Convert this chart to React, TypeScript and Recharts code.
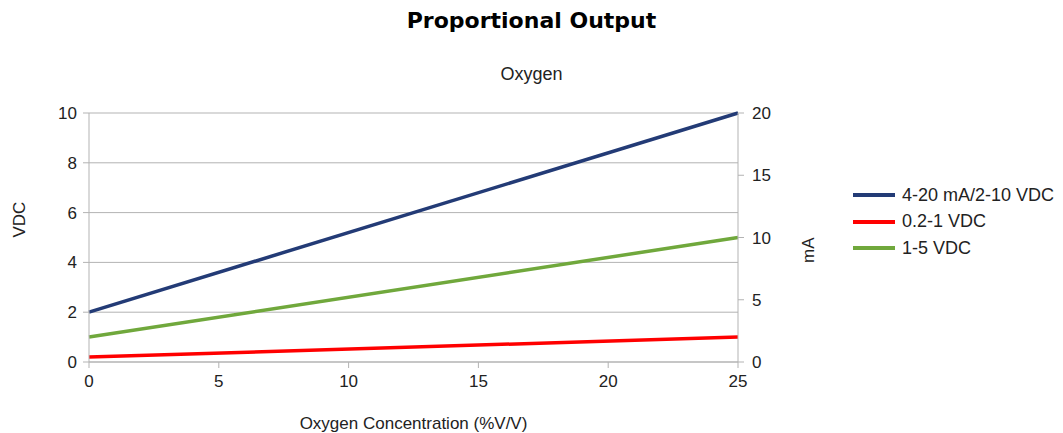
import { LineChart, Line, XAxis, YAxis, CartesianGrid } from 'recharts';

const concentration = [0, 25];
const span420 = [2, 10];
const span021 = [0.2, 1];
const span15 = [1, 5];
const milliAmps = [4, 20];

const xTicks = [0, 5, 10, 15, 20, 25];
const vdcTicks = [0, 2, 4, 6, 8, 10];
const maTicks = [0, 5, 10, 15, 20];

const series = [
  { key: 'a', name: '4-20 mA/2-10 VDC', color: '#233b76' },
  { key: 'b', name: '0.2-1 VDC', color: '#ff0000' },
  { key: 'c', name: '1-5 VDC', color: '#70a83c' },
];

const data = concentration.map((x, i) => ({
  x,
  a: span420[i],
  b: span021[i],
  c: span15[i],
  ma: milliAmps[i],
}));

const font = '"Liberation Sans", Arial, sans-serif';
const tickStyle = { fontSize: 17, fill: '#222', fontFamily: font };

export default function App() {
  return (
    <div style={{ position: 'relative', width: 1047, height: 425, fontFamily: font }}>
      <div style={{ position: 'absolute', left: 0, width: 1047, top: 0, textAlign: 'center', fontFamily: '"DejaVu Sans", sans-serif', fontWeight: 'bold', fontSize: 22, color: '#000' }}>
        Proportional Output
      </div>
      <div style={{ position: 'absolute', left: 0, width: 1047, top: 56, textAlign: 'center', fontSize: 18, color: '#222' }}>
        Oxygen
      </div>
      <LineChart width={1047} height={425} data={data} margin={{ top: 105, right: 267, bottom: 41, left: 31 }}>
        <CartesianGrid yAxisId="left" vertical={false} stroke="#b3b3b3" />
        <XAxis
          dataKey="x"
          type="number"
          domain={[0, 25]}
          ticks={xTicks}
          height={30}
          stroke="#b3b3b3"
          tickSize={6}
          tick={{ ...tickStyle, dy: 5 }}
          label={{ value: 'Oxygen Concentration (%V/V)', position: 'insideBottom', offset: -37, style: { fontSize: 17, fill: '#222', fontFamily: font } }}
        />
        <YAxis
          yAxisId="left"
          domain={[0, 10]}
          ticks={vdcTicks}
          width={50}
          stroke="#b3b3b3"
          tickSize={6}
          tick={{ ...tickStyle, dx: -4 }}
          label={{ value: 'VDC', angle: -90, position: 'insideLeft', offset: -20, style: { fontSize: 17, fill: '#222', fontFamily: font } }}
        />
        <YAxis
          yAxisId="right"
          orientation="right"
          domain={[0, 20]}
          ticks={maTicks}
          width={50}
          stroke="#b3b3b3"
          tickSize={6}
          tick={{ ...tickStyle, dx: 6 }}
          label={{ value: 'mA', angle: -90, position: 'insideRight', offset: -20, style: { fontSize: 17, fill: '#222', fontFamily: font } }}
        />
        <Line yAxisId="right" dataKey="ma" stroke="none" dot={false} isAnimationActive={false} />
        {series.map((s) => (
          <Line
            key={s.key}
            yAxisId="left"
            dataKey={s.key}
            name={s.name}
            stroke={s.color}
            strokeWidth={3.5}
            dot={false}
            isAnimationActive={false}
          />
        ))}
      </LineChart>
      <div style={{ position: 'absolute', left: 845, top: 174 }}>
        {series.map((s) => (
          <div key={s.key} style={{ display: 'flex', alignItems: 'center', height: 26.5, fontSize: 18, color: '#222' }}>
            <span style={{ display: 'inline-block', width: 42, height: 4, background: s.color, marginRight: 7 }} />
            {s.name}
          </div>
        ))}
      </div>
    </div>
  );
}
